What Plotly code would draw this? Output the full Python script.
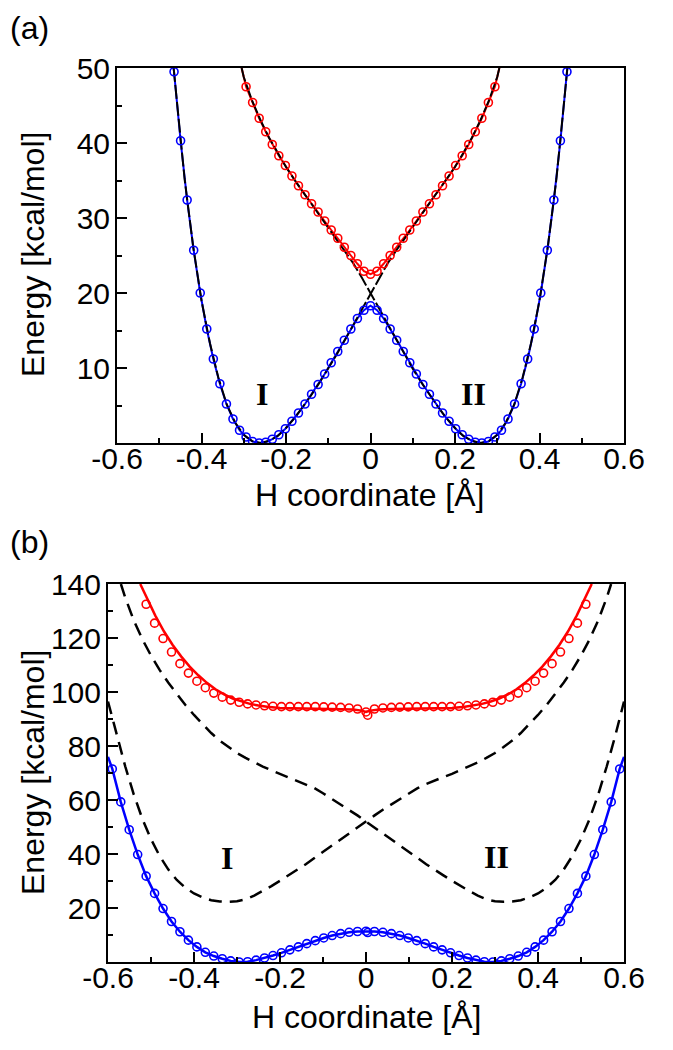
import plotly.graph_objects as go

# ---------------- Panel (a) data ----------------
xa = [-0.465, -0.4495, -0.434, -0.4185, -0.403, -0.3875, -0.372, -0.3565, -0.341, -0.3255,
      -0.31, -0.2945, -0.279, -0.2635, -0.248, -0.2325, -0.217, -0.2015, -0.186, -0.1705,
      -0.155, -0.1395, -0.124, -0.1085, -0.093, -0.0775, -0.062, -0.0465, -0.031, -0.0155,
      0.0,
      0.0155, 0.031, 0.0465, 0.062, 0.0775, 0.093, 0.1085, 0.124, 0.1395, 0.155,
      0.1705, 0.186, 0.2015, 0.217, 0.2325, 0.248, 0.2635, 0.279, 0.2945, 0.31,
      0.3255, 0.341, 0.3565, 0.372, 0.3875, 0.403, 0.4185, 0.434, 0.4495, 0.465]
ground_a = [49.5, 40.3, 32.4, 25.7, 20.0, 15.2, 11.2, 7.9, 5.2, 3.2,
            1.7, 0.8, 0.2, 0.0, 0.1, 0.5, 1.1, 1.9, 2.9, 4.0,
            5.2, 6.5, 7.8, 9.2, 10.7, 12.2, 13.7, 15.2, 16.6, 17.7,
            18.3,
            17.7, 16.6, 15.2, 13.7, 12.2, 10.7, 9.2, 7.8, 6.5, 5.2,
            4.0, 2.9, 1.9, 1.1, 0.5, 0.1, 0.0, 0.2, 0.8, 1.7,
            3.2, 5.2, 7.9, 11.2, 15.2, 20.0, 25.7, 32.4, 40.3, 49.5]
xa_exc = [-0.2945, -0.279, -0.2635, -0.248, -0.2325, -0.217, -0.2015, -0.186, -0.1705, -0.155,
          -0.1395, -0.124, -0.1085, -0.093, -0.0775, -0.062, -0.0465, -0.031, -0.0155, 0.0,
          0.0155, 0.031, 0.0465, 0.062, 0.0775, 0.093, 0.1085, 0.124, 0.1395, 0.155,
          0.1705, 0.186, 0.2015, 0.217, 0.2325, 0.248, 0.2635, 0.279, 0.2945]
excited_a = [47.5, 45.4, 43.3, 41.5, 39.8, 38.3, 37.0, 35.6, 34.3, 33.1,
             31.9, 30.8, 29.6, 28.4, 27.3, 26.1, 25.0, 23.9, 22.9, 22.5,
             22.9, 23.9, 25.0, 26.1, 27.3, 28.4, 29.6, 30.8, 31.9, 33.1,
             34.3, 35.6, 37.0, 38.3, 39.8, 41.5, 43.3, 45.4, 47.5]
# solid lines reach the frame top slightly beyond the last circles
ground_a_line_x = [-0.466] + xa + [0.466]
ground_a_line_y = [50.0] + ground_a + [50.0]
excited_a_line_x = [-0.305] + xa_exc + [0.305]
excited_a_line_y = [50.0] + excited_a + [50.0]

# diabatic curves (black) panel (a)
diab_a1_x = [-0.466, -0.46, -0.44, -0.42, -0.40, -0.38, -0.36, -0.34, -0.32, -0.30, -0.28,
             -0.26, -0.24, -0.22, -0.20, -0.18, -0.16, -0.14, -0.12, -0.10, -0.08, -0.06,
             -0.04, -0.02, 0.0, 0.02, 0.04, 0.06, 0.08, 0.10, 0.12, 0.14, 0.16, 0.18, 0.20,
             0.22, 0.24, 0.26, 0.28, 0.30, 0.305]
diab_a1_y = [50.0, 46.5, 35.2, 26.3, 19.0, 13.3, 8.7, 5.1, 2.7, 1.1, 0.25,
             0.0, 0.3, 0.9, 2.0, 3.3, 4.8, 6.4, 8.1, 9.9, 11.8, 13.8,
             15.8, 17.9, 20.0, 22.0, 23.9, 25.6, 27.2, 28.8, 30.4, 31.9, 33.5, 35.1, 36.8,
             38.7, 40.7, 43.0, 45.6, 48.8, 50.0]
diab_a2_x = [-0.305, -0.30, -0.28, -0.26, -0.24, -0.22, -0.20, -0.18, -0.16, -0.14, -0.12,
             -0.10, -0.08, -0.06, -0.04, -0.02, 0.0, 0.02, 0.04, 0.06, 0.08, 0.10, 0.12,
             0.14, 0.16, 0.18, 0.20, 0.22, 0.24, 0.26, 0.28, 0.30, 0.32, 0.34, 0.36, 0.38,
             0.40, 0.42, 0.44, 0.46, 0.466]
diab_a2_y = [50.0, 48.8, 45.6, 43.0, 40.7, 38.7, 36.8, 35.1, 33.5, 31.9, 30.4,
             28.8, 27.2, 25.6, 23.9, 22.0, 20.0, 17.9, 15.8, 13.8, 11.8, 9.9, 8.1,
             6.4, 4.8, 3.3, 2.0, 0.9, 0.3, 0.0, 0.25, 1.1, 2.7, 5.1, 8.7, 13.3,
             19.0, 26.3, 35.2, 46.5, 50.0]

# ---------------- Panel (b) data ----------------
xb = [-0.59, -0.5703, -0.5507, -0.531, -0.5113, -0.4917, -0.472, -0.4523, -0.4327, -0.413,
      -0.3933, -0.3737, -0.354, -0.3343, -0.3147, -0.295, -0.2753, -0.2557, -0.236, -0.2163,
      -0.1967, -0.177, -0.1573, -0.1377, -0.118, -0.0983, -0.0787, -0.059, -0.0393, -0.0197,
      0.0, 0.004,
      0.0197, 0.0393, 0.059, 0.0787, 0.0983, 0.118, 0.1377, 0.1573, 0.177, 0.1967,
      0.2163, 0.236, 0.2557, 0.2753, 0.295, 0.3147, 0.3343, 0.354, 0.3737, 0.3933,
      0.413, 0.4327, 0.4523, 0.472, 0.4917, 0.5113, 0.531, 0.5507, 0.5703, 0.59]
ground_b = [71.5, 59.3, 49.0, 39.8, 31.8, 25.4, 19.8, 15.0, 11.2, 8.1,
            5.6, 3.6, 2.2, 1.2, 0.4, 0.0, 0.1, 0.7, 1.5, 2.4,
            3.4, 4.5, 5.6, 6.8, 7.9, 8.9, 9.8, 10.5, 11.0, 11.3,
            11.4, 10.9,
            11.3, 11.0, 10.5, 9.8, 8.9, 7.9, 6.8, 5.6, 4.5, 3.4,
            2.4, 1.5, 0.7, 0.1, 0.0, 0.4, 1.2, 2.2, 3.6, 5.6,
            8.1, 11.2, 15.0, 19.8, 25.4, 31.8, 39.8, 49.0, 59.3, 71.5]
ground_b_line_x = [-0.6, -0.59, -0.5703, -0.5507, -0.531, -0.5113, -0.4917, -0.472, -0.4523,
                   -0.4327, -0.413, -0.3933, -0.3737, -0.354, -0.3343, -0.3147, -0.295, -0.2753,
                   -0.2557, -0.236, -0.2163, -0.1967, -0.177, -0.1573, -0.1377, -0.118, -0.0983,
                   -0.0787, -0.059, -0.0393, -0.0197, 0.0, 0.0197, 0.0393, 0.059, 0.0787,
                   0.0983, 0.118, 0.1377, 0.1573, 0.177, 0.1967, 0.2163, 0.236, 0.2557, 0.2753,
                   0.295, 0.3147, 0.3343, 0.354, 0.3737, 0.3933, 0.413, 0.4327, 0.4523, 0.472,
                   0.4917, 0.5113, 0.531, 0.5507, 0.5703, 0.59, 0.6]
ground_b_line_y = [76.0, 71.5, 59.3, 49.0, 39.8, 31.8, 25.4, 19.8, 15.0, 11.2,
                   8.1, 5.6, 3.6, 2.2, 1.2, 0.4, 0.0, 0.1, 0.7, 1.5,
                   2.4, 3.4, 4.5, 5.6, 6.8, 7.9, 8.9, 9.8, 10.5, 11.0,
                   11.3, 11.4, 11.3, 11.0, 10.5, 9.8, 8.9, 7.9, 6.8, 5.6,
                   4.5, 3.4, 2.4, 1.5, 0.7, 0.1, 0.0, 0.4, 1.2, 2.2,
                   3.6, 5.6, 8.1, 11.2, 15.0, 19.8, 25.4, 31.8, 39.8, 49.0,
                   59.3, 71.5, 76.0]
xb_exc = [-0.5113, -0.4917, -0.472, -0.4523, -0.4327, -0.413, -0.3933, -0.3737, -0.354, -0.3343,
          -0.3147, -0.295, -0.2753, -0.2557, -0.236, -0.2163, -0.1967, -0.177, -0.1573, -0.1377,
          -0.118, -0.0983, -0.0787, -0.059, -0.0393, -0.0197, 0.0, 0.004,
          0.0197, 0.0393, 0.059, 0.0787, 0.0983, 0.118, 0.1377, 0.1573, 0.177, 0.1967,
          0.2163, 0.236, 0.2557, 0.2753, 0.295, 0.3147, 0.3343, 0.354, 0.3737, 0.3933,
          0.413, 0.4327, 0.4523, 0.472, 0.4917, 0.5113]
excited_b = [132.5, 125.5, 119.8, 114.8, 110.5, 107.0, 104.0, 101.6, 99.6, 98.1,
             97.0, 96.2, 95.6, 95.2, 94.9, 94.7, 94.6, 94.6, 94.6, 94.6,
             94.6, 94.5, 94.4, 94.3, 94.1, 93.7, 92.6, 91.4,
             93.7, 94.1, 94.3, 94.4, 94.5, 94.6, 94.6, 94.6, 94.6, 94.6,
             94.7, 94.9, 95.2, 95.6, 96.2, 97.0, 98.1, 99.6, 101.6, 104.0,
             107.0, 110.5, 114.8, 119.8, 125.5, 132.5]
excited_b_line_x = [-0.525, -0.51, -0.49, -0.47, -0.45, -0.43, -0.41, -0.39, -0.37, -0.35,
                    -0.33, -0.31, -0.29, -0.27, -0.25, -0.23, -0.20, -0.15, -0.10, -0.06,
                    -0.03, -0.01, 0.0, 0.01, 0.03, 0.06, 0.10, 0.15, 0.20, 0.23,
                    0.25, 0.27, 0.29, 0.31, 0.33, 0.35, 0.37, 0.39, 0.41, 0.43,
                    0.45, 0.47, 0.49, 0.51, 0.525]
excited_b_line_y = [140.0, 135.0, 128.3, 122.5, 117.5, 113.2, 109.4, 106.2, 103.4, 101.0,
                    99.1, 97.6, 96.5, 95.6, 95.0, 94.5, 94.1, 93.9, 93.8, 93.7,
                    93.5, 93.1, 92.6, 93.1, 93.5, 93.7, 93.8, 93.9, 94.1, 94.5,
                    95.0, 95.6, 96.5, 97.6, 99.1, 101.0, 103.4, 106.2, 109.4, 113.2,
                    117.5, 122.5, 128.3, 135.0, 140.0]

# diabatic curves (black dashed) panel (b)
diab_b1_x = [-0.60, -0.58, -0.56, -0.54, -0.52, -0.50, -0.48, -0.46, -0.44, -0.42,
             -0.40, -0.38, -0.36, -0.34, -0.32, -0.30, -0.28, -0.26, -0.24, -0.22,
             -0.20, -0.18, -0.16, -0.14, -0.12, -0.10, -0.08, -0.06, -0.04, -0.02,
             0.00, 0.02, 0.04, 0.06, 0.08, 0.10, 0.12, 0.14, 0.16, 0.18,
             0.20, 0.22, 0.24, 0.26, 0.28, 0.30, 0.32, 0.34, 0.36, 0.38,
             0.40, 0.42, 0.44, 0.46, 0.48, 0.50, 0.52, 0.54, 0.56, 0.57]
diab_b1_y = [96.5, 84.0, 72.5, 62.0, 53.0, 45.5, 39.3, 34.3, 30.4, 27.5,
             25.4, 23.9, 22.9, 22.4, 22.3, 22.5, 23.2, 24.6, 26.3, 28.1,
             30.1, 32.1, 34.0, 36.2, 38.5, 40.8, 43.1, 45.3, 47.5, 49.8,
             52.0, 54.3, 56.5, 58.4, 60.5, 62.5, 64.4, 65.9, 67.3, 68.5,
             69.7, 71.0, 72.4, 73.9, 75.6, 77.4, 79.6, 82.0, 84.8, 88.0,
             91.5, 95.2, 99.3, 103.5, 108.2, 113.5, 119.5, 126.5, 135.0, 140.0]
diab_b2_x = [-0.57, -0.56, -0.54, -0.52, -0.50, -0.48, -0.46, -0.44, -0.42, -0.40,
             -0.38, -0.36, -0.34, -0.32, -0.30, -0.28, -0.26, -0.24, -0.22, -0.20,
             -0.18, -0.16, -0.14, -0.12, -0.10, -0.08, -0.06, -0.04, -0.02, 0.00,
             0.02, 0.04, 0.06, 0.08, 0.10, 0.12, 0.14, 0.16, 0.18, 0.20,
             0.22, 0.24, 0.26, 0.28, 0.30, 0.32, 0.34, 0.36, 0.38, 0.40,
             0.42, 0.44, 0.46, 0.48, 0.50, 0.52, 0.54, 0.56, 0.58, 0.60]
diab_b2_y = [140.0, 135.0, 126.5, 119.5, 113.5, 108.2, 103.5, 99.3, 95.2, 91.5,
             88.0, 84.8, 82.0, 79.6, 77.4, 75.6, 73.9, 72.4, 71.0, 69.7,
             68.5, 67.3, 65.9, 64.4, 62.5, 60.5, 58.4, 56.5, 54.3, 52.0,
             49.8, 47.5, 45.3, 43.1, 40.8, 38.5, 36.2, 34.0, 32.1, 30.1,
             28.1, 26.3, 24.6, 23.2, 22.5, 22.3, 22.4, 22.9, 23.9, 25.4,
             27.5, 30.4, 34.3, 39.3, 45.5, 53.0, 62.0, 72.5, 84.0, 96.5]

x_tickvals = [-0.6, -0.4, -0.2, 0.0, 0.2, 0.4, 0.6]
x_ticktext = ["-0.6", "-0.4", "-0.2", "0", "0.2", "0.4", "0.6"]
x_minor = [-0.5, -0.3, -0.1, 0.1, 0.3, 0.5]
ya_tickvals = [0, 10, 20, 30, 40, 50]
ya_ticktext = ["", "10", "20", "30", "40", "50"]
ya_minor = [5, 15, 25, 35, 45]
yb_tickvals = [0, 20, 40, 60, 80, 100, 120, 140]
yb_ticktext = ["", "20", "40", "60", "80", "100", "120", "140"]
yb_minor = [10, 30, 50, 70, 90, 110, 130]

# ---------------- Figure ----------------
BLUE = "#0000ff"
RED = "#ff0000"
FONT = "Liberation Sans, Arial, sans-serif"
SERIF = "Liberation Serif, Times New Roman, serif"

fig = go.Figure()

# panel (a)
fig.add_trace(go.Scatter(x=ground_a_line_x, y=ground_a_line_y, mode="lines",
                         line=dict(color=BLUE, width=2), xaxis="x", yaxis="y"))
fig.add_trace(go.Scatter(x=excited_a_line_x, y=excited_a_line_y, mode="lines",
                         line=dict(color=RED, width=2), xaxis="x", yaxis="y"))
for dx, dy in ((diab_a1_x, diab_a1_y), (diab_a2_x, diab_a2_y)):
    fig.add_trace(go.Scatter(x=dx, y=dy, mode="lines",
                             line=dict(color="black", width=2, dash="14px,3px"),
                             xaxis="x", yaxis="y"))
fig.add_trace(go.Scatter(x=xa, y=ground_a, mode="markers",
                         marker=dict(symbol="circle-open", size=8, color=BLUE,
                                     line=dict(width=1.6, color=BLUE)),
                         xaxis="x", yaxis="y"))
fig.add_trace(go.Scatter(x=xa_exc, y=excited_a, mode="markers",
                         marker=dict(symbol="circle-open", size=8, color=RED,
                                     line=dict(width=1.6, color=RED)),
                         xaxis="x", yaxis="y"))

# panel (b)
for dx, dy in ((diab_b1_x, diab_b1_y), (diab_b2_x, diab_b2_y)):
    fig.add_trace(go.Scatter(x=dx, y=dy, mode="lines",
                             line=dict(color="black", width=2.5, dash="13px,8px"),
                             xaxis="x2", yaxis="y2"))
fig.add_trace(go.Scatter(x=ground_b_line_x, y=ground_b_line_y, mode="lines",
                         line=dict(color=BLUE, width=2.5), xaxis="x2", yaxis="y2"))
fig.add_trace(go.Scatter(x=excited_b_line_x, y=excited_b_line_y, mode="lines",
                         line=dict(color=RED, width=2.5), xaxis="x2", yaxis="y2"))
fig.add_trace(go.Scatter(x=xb, y=ground_b, mode="markers",
                         marker=dict(symbol="circle-open", size=8, color=BLUE,
                                     line=dict(width=1.6, color=BLUE)),
                         xaxis="x2", yaxis="y2"))
fig.add_trace(go.Scatter(x=xb_exc, y=excited_b, mode="markers",
                         marker=dict(symbol="circle-open", size=8, color=RED,
                                     line=dict(width=1.6, color=RED)),
                         xaxis="x2", yaxis="y2"))

# the page body adds an 8 px offset; positions below are given in window pixels
OFF = 8
W, H = 673 - OFF, 1050 - OFF
def px_x(p):
    return (p - OFF) / W
def px_y(p):
    return 1 - (p - OFF) / H

TICK = 30
common_x = dict(range=[-0.6, 0.6], tickmode="array", tickvals=x_tickvals, ticktext=x_ticktext,
                ticks="inside", ticklen=10, tickwidth=2, tickcolor="black",
                minor=dict(tickvals=x_minor, ticks="inside", ticklen=5, tickwidth=2, tickcolor="black"),
                showline=True, linewidth=2, linecolor="black", mirror=True,
                showgrid=False, zeroline=False, fixedrange=True, automargin=False,
                ticklabelstandoff=-12,
                tickfont=dict(family=FONT, size=TICK, color="black"))
common_y = dict(tickmode="array", ticks="inside", ticklen=10, tickwidth=2, tickcolor="black",
                showline=True, linewidth=2, linecolor="black", mirror=True,
                showgrid=False, zeroline=False, fixedrange=True, automargin=False,
                ticklabelstandoff=-1,
                tickfont=dict(family=FONT, size=TICK, color="black"))

fig.update_layout(
    width=W, height=H,
    margin=dict(l=0, r=0, t=0, b=0, pad=0, autoexpand=False),
    paper_bgcolor="white", plot_bgcolor="white",
    showlegend=False,
    xaxis=dict(common_x, domain=[px_x(117), px_x(624)], anchor="y"),
    yaxis=dict(common_y, domain=[px_y(443), px_y(68)], anchor="x", range=[0, 50],
               tickvals=ya_tickvals, ticktext=ya_ticktext,
               minor=dict(tickvals=ya_minor, ticks="inside", ticklen=5, tickwidth=2, tickcolor="black")),
    xaxis2=dict(common_x, domain=[px_x(108), px_x(624)], anchor="y2"),
    yaxis2=dict(common_y, domain=[px_y(962), px_y(584)], anchor="x2", range=[0, 140],
                tickvals=yb_tickvals, ticktext=yb_ticktext,
                minor=dict(tickvals=yb_minor, ticks="inside", ticklen=5, tickwidth=2, tickcolor="black")),
)

ann = []
tfont = dict(family=FONT, size=32, color="black")
pfont = dict(family=FONT, size=32, color="black")
ann.append(dict(text="(a)", xref="paper", yref="paper", x=px_x(8), y=px_y(8),
                xanchor="left", yanchor="top", showarrow=False, font=pfont))
ann.append(dict(text="(b)", xref="paper", yref="paper", x=px_x(8), y=px_y(522),
                xanchor="left", yanchor="top", showarrow=False, font=pfont))
ann.append(dict(text="Energy [kcal/mol]", xref="paper", yref="paper", x=px_x(33), y=px_y(255),
                xanchor="center", yanchor="middle", textangle=-90, showarrow=False, font=tfont))
ann.append(dict(text="Energy [kcal/mol]", xref="paper", yref="paper", x=px_x(33), y=px_y(773),
                xanchor="center", yanchor="middle", textangle=-90, showarrow=False, font=tfont))
ann.append(dict(text="H coordinate [Å]", xref="paper", yref="paper", x=px_x(370), y=px_y(495),
                xanchor="center", yanchor="middle", showarrow=False, font=tfont))
ann.append(dict(text="H coordinate [Å]", xref="paper", yref="paper", x=px_x(366), y=px_y(1017),
                xanchor="center", yanchor="middle", showarrow=False, font=tfont))
lfont = dict(family=SERIF, size=32, color="black")
ann.append(dict(text="<b>I</b>", xref="x", yref="y", x=-0.257, y=6.6, showarrow=False, font=lfont))
ann.append(dict(text="<b>II</b>", xref="x", yref="y", x=0.243, y=6.6, showarrow=False, font=lfont))
ann.append(dict(text="<b>I</b>", xref="x2", yref="y2", x=-0.324, y=38.4, showarrow=False, font=lfont))
ann.append(dict(text="<b>II</b>", xref="x2", yref="y2", x=0.304, y=39.0, showarrow=False, font=lfont))
fig.update_layout(annotations=ann)

fig.write_html("out.html", config={"displayModeBar": False})
